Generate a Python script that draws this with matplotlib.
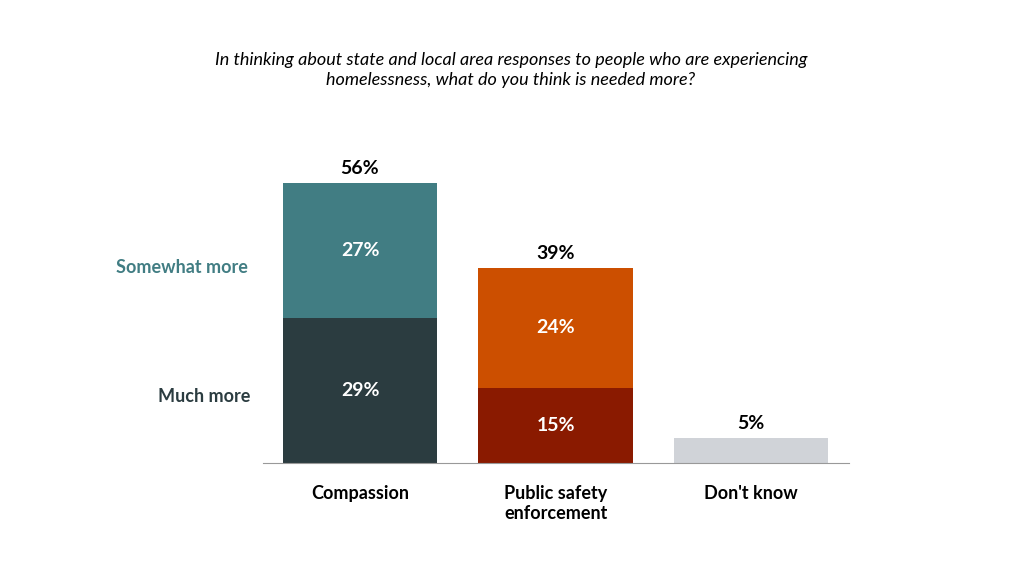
import matplotlib
matplotlib.use("Agg")
import matplotlib.pyplot as plt

categories = ["Compassion", "Public safety\nenforcement", "Don't know"]
much_more = [29, 15, 5]
somewhat_more = [27, 24, 0]
totals = [56, 39, 5]

plt.rcParams['font.family'] = ['Lato', 'DejaVu Sans']

fig = plt.figure(figsize=(10.24, 5.76), dpi=100)
ax = fig.add_axes([263/1024, 1-463/576, (849-263)/1024, 300/576])

x = [0, 1, 2]
base_cols = ["#2b3c40", "#8a1a00", "#d0d3d8"]
top_cols = ["#417d83", "#cc4f00", "#d0d3d8"]
w = 0.79
ax.bar(x, much_more, width=w, color=base_cols)
ax.bar(x, somewhat_more, width=w, bottom=much_more, color=top_cols)

for i in x:
    if somewhat_more[i] > 0:
        ax.text(i, much_more[i]/2, f"{much_more[i]}%", ha="center", va="center",
                color="white", fontsize=14, fontweight="bold")
        ax.text(i, much_more[i] + somewhat_more[i]/2, f"{somewhat_more[i]}%",
                ha="center", va="center", color="white", fontsize=14, fontweight="bold")
    ax.text(i, totals[i] + 1.2, f"{totals[i]}%", ha="center", va="bottom",
            color="black", fontsize=14, fontweight="bold")

ax.set_xlim(-0.496, 2.50)
ax.set_ylim(0, 60)
ax.set_yticks([])
ax.set_xticks(x)
ax.set_xticklabels(categories, fontsize=13, fontweight="bold")
ax.tick_params(axis="x", length=0, pad=16)
for s in ["top", "right", "left"]:
    ax.spines[s].set_visible(False)
ax.spines["bottom"].set_color("#999999")

fig.text(248/1024, 1-267/576, "Somewhat more", ha="right", va="center",
         color="#417d83", fontsize=13, fontweight="bold")
fig.text(250/1024, 1-397/576, "Much more", ha="right", va="center",
         color="#2b3c40", fontsize=13, fontweight="bold")
fig.text(511/1024, 1-70/576,
         "In thinking about state and local area responses to people who are experiencing\nhomelessness, what do you think is needed more?",
         ha="center", va="center", fontsize=13, style="italic", linespacing=1.3)

fig.savefig("out.png", dpi=100)
